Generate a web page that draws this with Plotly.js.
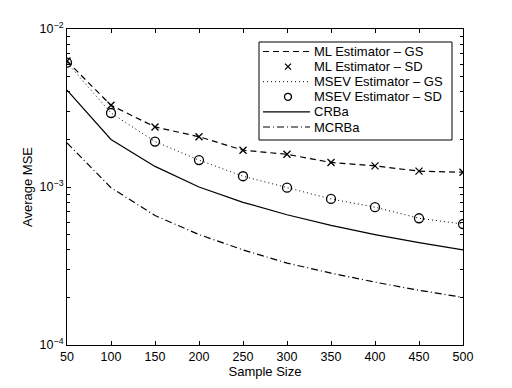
<!DOCTYPE html>
<html>
<head>
<meta charset="utf-8">
<script src="https://cdn.plot.ly/plotly-3.0.1.min.js"></script>
<style>
  html, body { margin: 0; padding: 0; background: #fff; }
  #chart { width: 512px; height: 388px; }
</style>
</head>
<body>
<div id="chart"></div>
<script>
// datos
const sampleSize = [50, 100, 150, 200, 250, 300, 350, 400, 450, 500];
const mlEstimator = [0.00627, 0.00329, 0.00240, 0.00208, 0.00171, 0.00161, 0.00143, 0.00136, 0.00126, 0.00124];
const msevEstimator = [0.00612, 0.00294, 0.00194, 0.00148, 0.00117, 0.00099, 0.00084, 0.000745, 0.000634, 0.000583];
const crba = [0.0041, 0.0020, 0.00135, 0.0010, 0.00080, 0.000667, 0.000571, 0.00050, 0.000444, 0.00040];
const mcrba = [0.0019, 0.00099, 0.00066, 0.00050, 0.00040, 0.00033, 0.000285, 0.00025, 0.000222, 0.00020];
const yTickVals = [1e-4, 1e-3, 1e-2];
const yTickText = ['10<sup>−4</sup>', '10<sup>−3</sup>', '10<sup>−2</sup>'];

const black = '#000';
const dashML = '6px,4px';
const dashMSEV = '1px,3px';
const dashMCRB = '7px,3px,1px,3px';

const traces = [
    {
        x: sampleSize, y: mlEstimator, name: 'ML Estimator – GS',
        type: 'scatter', mode: 'lines',
        line: { color: black, width: 1.2, dash: dashML }
    },
    {
        x: sampleSize, y: mlEstimator, name: 'ML Estimator – SD',
        type: 'scatter', mode: 'markers',
        marker: { symbol: 'x-thin-open', size: 7, color: black, line: { color: black, width: 1.3 } }
    },
    {
        x: sampleSize, y: msevEstimator, name: 'MSEV Estimator – GS',
        type: 'scatter', mode: 'lines',
        line: { color: black, width: 1, dash: dashMSEV }
    },
    {
        x: sampleSize, y: msevEstimator, name: 'MSEV Estimator – SD',
        type: 'scatter', mode: 'markers',
        marker: { symbol: 'circle-open', size: 9, color: black, line: { color: black, width: 1.3 } }
    },
    {
        x: sampleSize, y: crba, name: 'CRBa',
        type: 'scatter', mode: 'lines',
        line: { color: black, width: 1.2 }
    },
    {
        x: sampleSize, y: mcrba, name: 'MCRBa',
        type: 'scatter', mode: 'lines',
        line: { color: black, width: 1.2, dash: dashMCRB }
    }
];

// leyenda dibujada a mano (estilo MATLAB, filas mas juntas)
const plotL = 67, plotT = 29, plotW = 396, plotH = 316;
const px = v => (v - plotL) / plotW;
const py = v => (plotT + plotH - v) / plotH;

const shapes = [{
    type: 'rect', xref: 'paper', yref: 'paper', layer: 'above',
    x0: px(259), x1: px(452), y0: py(140), y1: py(42),
    line: { color: black, width: 1 }, fillcolor: '#fff'
}];
const annotations = [];

traces.forEach((t, i) => {
    const rowY = py(51.5 + 15.1 * i);
    if (t.mode === 'lines') {
        shapes.push({
            type: 'line', xref: 'paper', yref: 'paper', layer: 'above',
            x0: px(263), x1: px(310), y0: rowY, y1: rowY,
            line: { color: black, width: t.line.width, dash: t.line.dash || 'solid' }
        });
    } else if (t.marker.symbol === 'circle-open') {
        shapes.push({
            type: 'circle', xref: 'paper', yref: 'paper', layer: 'above',
            xsizemode: 'pixel', ysizemode: 'pixel', xanchor: px(288), yanchor: rowY,
            x0: -3.5, x1: 3.5, y0: -3.5, y1: 3.5,
            line: { color: black, width: 1.3 }
        });
    } else {
        [[-3, 3], [3, -3]].forEach(([a, b]) => shapes.push({
            type: 'line', xref: 'paper', yref: 'paper', layer: 'above',
            xsizemode: 'pixel', ysizemode: 'pixel', xanchor: px(288), yanchor: rowY,
            x0: -3, x1: 3, y0: a, y1: b,
            line: { color: black, width: 1.3 }
        }));
    }
    annotations.push({
        text: t.name, xref: 'paper', yref: 'paper',
        x: px(312), y: rowY, xanchor: 'left', yanchor: 'middle',
        showarrow: false, font: { size: 13, color: black }
    });
});

const layout = {
    width: 512,
    height: 388,
    margin: { l: 67, r: 49, t: 29, b: 43 },
    paper_bgcolor: '#fff',
    plot_bgcolor: '#fff',
    font: { family: 'Liberation Sans, Arial, sans-serif', size: 12, color: black },
    showlegend: false,
    shapes: shapes,
    annotations: annotations,
    xaxis: {
        range: [50, 500],
        tickvals: sampleSize,
        ticks: 'inside', ticklen: 4, tickcolor: black,
        showline: true, linecolor: black, linewidth: 1, mirror: 'ticks',
        showgrid: false, zeroline: false,
        tickfont: { size: 12.5 },
        title: { text: 'Sample Size', font: { size: 13 }, standoff: 1 }
    },
    yaxis: {
        type: 'log',
        range: [-4, -2],
        tickvals: yTickVals, ticktext: yTickText,
        ticks: 'inside', ticklen: 4, tickcolor: black,
        minor: { ticks: 'inside', ticklen: 3, tickcolor: black, dtick: 'D1', showgrid: false },
        showline: true, linecolor: black, linewidth: 1, mirror: 'ticks',
        showgrid: false, zeroline: false,
        tickfont: { size: 12.5 },
        title: { text: 'Average MSE', font: { size: 13 }, standoff: 4 }
    }
};

Plotly.newPlot('chart', traces, layout, { staticPlot: true });
</script>
</body>
</html>
